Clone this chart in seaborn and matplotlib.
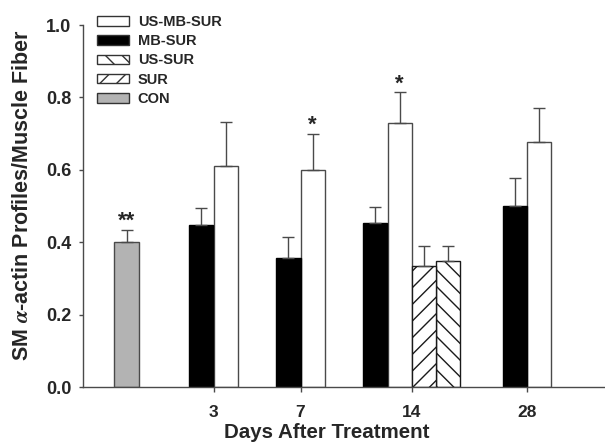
import numpy as np
import pandas as pd
import seaborn as sns
import matplotlib.pyplot as plt
from matplotlib.patches import Patch

# values
days = ["3", "7", "14", "28"]
groups = ["US-MB-SUR", "MB-SUR", "US-SUR", "SUR", "CON"]

con_mean = [0.400]
con_err = [0.034]

mb_sur_mean = [0.447, 0.355, 0.452, 0.501]
mb_sur_err = [0.047, 0.060, 0.044, 0.075]

us_mb_sur_mean = [0.611, 0.599, 0.730, 0.676]
us_mb_sur_err = [0.122, 0.100, 0.084, 0.096]

sur_mean = [0.335]
sur_err = [0.055]
us_sur_mean = [0.348]
us_sur_err = [0.042]

# significance marks: (group, day, text)
marks = [("CON", "CON", "**"), ("US-MB-SUR", "7", "*"), ("US-MB-SUR", "14", "*")]

# ---- build a long table ----
rows = []
rows.append(("CON", "CON", con_mean[0], con_err[0]))
for d, m, e in zip(days, mb_sur_mean, mb_sur_err):
    rows.append(("MB-SUR", d, m, e))
for d, m, e in zip(days, us_mb_sur_mean, us_mb_sur_err):
    rows.append(("US-MB-SUR", d, m, e))
rows.append(("SUR", "14", sur_mean[0], sur_err[0]))
rows.append(("US-SUR", "14", us_sur_mean[0], us_sur_err[0]))
df = pd.DataFrame(rows, columns=["group", "day", "value", "err"])

# layout: where each day group sits and the bar order inside a group
slot = {"CON": 0.0, "3": 1.0, "7": 2.0, "14": 3.276, "28": 4.609}
order_in_group = ["CON", "MB-SUR", "US-MB-SUR", "SUR", "US-SUR"]
bar_w = 0.276

def bar_x(r):
    members = [g for g in order_in_group if ((df.day == r.day) & (df.group == g)).any()]
    k = members.index(r.group)
    return slot[r.day] + (k - (len(members) - 1) / 2) * bar_w

df["x"] = df.apply(bar_x, axis=1)

colors = {"US-MB-SUR": "white", "MB-SUR": "black", "US-SUR": "white",
          "SUR": "white", "CON": "#b3b3b3"}
hatches = {"US-SUR": "\\\\", "SUR": "//"}

sns.set_style("ticks")
plt.rcParams["font.family"] = ["Liberation Sans", "DejaVu Sans"]
plt.rcParams["font.weight"] = "bold"
plt.rcParams["mathtext.fontset"] = "stix"
plt.rcParams["hatch.linewidth"] = 1.0

fig = plt.figure(figsize=(6.05, 4.42), dpi=100)
ax = fig.add_axes([83 / 605, 55 / 442, 522 / 605, 362 / 442])

sns.barplot(data=df, x="x", y="value", hue="group", hue_order=groups,
            palette=colors, native_scale=True, dodge=False, width=1.0,
            errorbar=None, edgecolor="#4a4a4a", linewidth=1.0,
            legend=False, ax=ax)

# hatches for the surgery-only groups
for p in ax.patches:
    cx = p.get_x() + p.get_width() / 2
    i = (df.x - cx).abs().idxmin()
    g = df.loc[i, "group"]
    if g in hatches:
        p.set_hatch(hatches[g])
        p.set_edgecolor("#1a1a1a")
    if g == "MB-SUR":
        p.set_edgecolor("black")

ax.errorbar(df.x, df.value, yerr=[np.zeros(len(df)), df.err], fmt="none",
            ecolor="#4a4a4a", elinewidth=1.0, capsize=4, capthick=1.0, zorder=1)

for g, d, txt in marks:
    r = df[(df.group == g) & (df.day == d)].iloc[0]
    ax.text(r.x, r.value + r.err - 0.006, txt, ha="center", va="bottom",
            fontsize=16, fontweight="bold")

ax.set_xlim(-0.5, 5.5)
ax.set_ylim(0, 1.0)
ax.set_xticks([slot[d] for d in days])
ax.set_xticklabels(days)
ax.set_yticks(np.arange(0, 1.01, 0.2))
ax.set_yticklabels([f"{v:.1f}" for v in np.arange(0, 1.01, 0.2)])
ax.tick_params(axis="y", length=3, width=1, color="#4a4a4a", pad=5.5, labelsize=13)
ax.tick_params(axis="x", length=3.6, width=1, color="#4a4a4a", pad=9.6, labelsize=12.5)

ax.set_xlabel("Days After Treatment", fontsize=14.8, fontweight="bold")
ax.set_ylabel(r"SM $\alpha$-actin Profiles/Muscle Fiber", fontsize=15.5, fontweight="bold")
ax.xaxis.set_label_coords(0.466, -0.099)
ax.yaxis.set_label_coords(-0.096, 0.53)

sns.despine(ax=ax)
for s in ["left", "bottom"]:
    ax.spines[s].set_color("#4a4a4a")
    ax.spines[s].set_linewidth(1.0)

handles = [Patch(facecolor=colors[g], edgecolor="#333333", hatch=hatches.get(g, ""),
                 label=g) for g in groups]
fig.legend(handles=handles, loc="upper left", bbox_to_anchor=(97 / 605, 1 - 15 / 442),
           frameon=False, fontsize=10.5, handlelength=2.2, handleheight=0.65,
           handletextpad=0.6, labelspacing=0.36, borderpad=0, borderaxespad=0)

fig.savefig("out.png", dpi=100)
